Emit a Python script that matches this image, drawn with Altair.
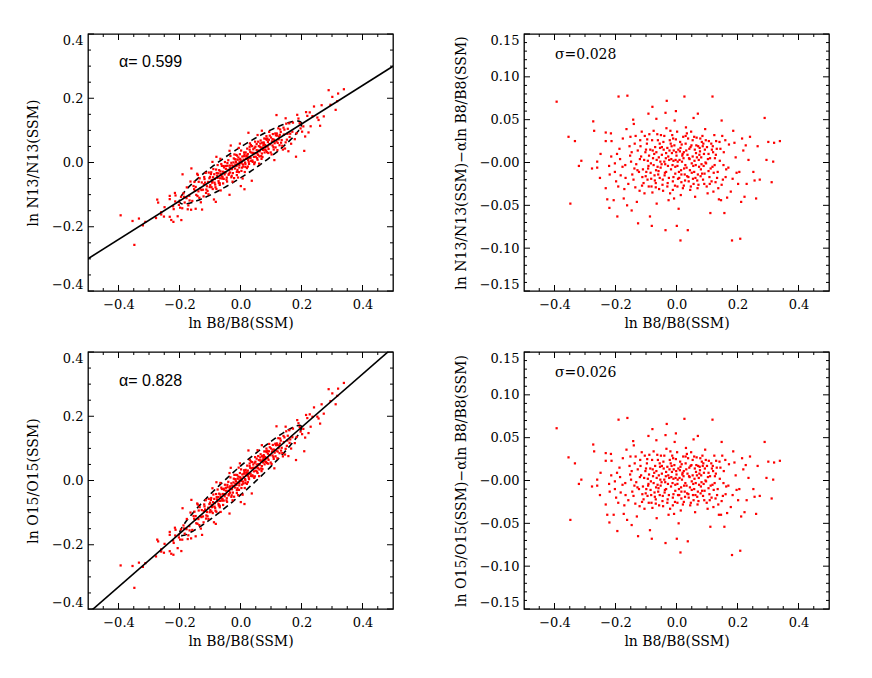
import altair as alt
import numpy as np
import pandas as pd

# ---------------- data ----------------
ALPHA_N13 = 0.599
ALPHA_O15 = 0.828
NOTE_N13 = "α= 0.599"
NOTE_O15 = "α= 0.828"
SIGMA_N13 = "σ=0.028"
SIGMA_O15 = "σ=0.026"

# ln B8/B8(SSM) of every point
x_b8 = [
    -0.393, -0.190, -0.161, -0.032, 0.026, 0.118, -0.079, -0.036, -0.002, 0.289,
    0.070, -0.092, -0.066, 0.056, 0.148, -0.142, -0.273, -0.270, -0.354, -0.333,
    -0.320, -0.312, -0.277, -0.348, -0.249, -0.232, -0.215, -0.232, -0.213, -0.260,
    -0.260, -0.251, -0.232, -0.227, -0.220, -0.206, -0.194, -0.191, -0.202, -0.198,
    -0.221, -0.214, -0.219, -0.202, -0.187, -0.185, -0.177, -0.173, -0.171, -0.167,
    -0.164, -0.162, -0.154, -0.151, -0.149, -0.147, -0.140, -0.138, -0.135, -0.130,
    -0.126, -0.123, -0.119, -0.114, -0.112, -0.105, -0.102, -0.097, -0.093, -0.091,
    -0.087, -0.084, -0.081, -0.078, -0.075, -0.072, -0.068, -0.065, -0.062, -0.058,
    -0.055, -0.051, -0.048, -0.044, -0.040, -0.036, -0.034, -0.030, -0.026, -0.023,
    -0.020, -0.017, -0.014, -0.012, -0.010, -0.006, -0.004, -0.001, 0.001, 0.003,
    0.007, 0.010, 0.013, 0.016, 0.019, 0.022, 0.024, 0.029, 0.031, 0.034,
    0.037, 0.039, 0.042, 0.047, 0.050, 0.053, 0.058, 0.061, 0.064, 0.068,
    0.071, 0.074, 0.078, 0.081, 0.084, 0.088, 0.091, 0.094, 0.097, 0.102,
    0.105, 0.108, 0.111, 0.114, 0.118, 0.121, 0.124, 0.128, 0.132, 0.135,
    0.139, 0.142, 0.146, 0.150, 0.154, 0.157, 0.161, 0.166, 0.178, 0.182,
    0.186, 0.190, 0.194, 0.197, 0.202, 0.206, 0.209, 0.212, 0.215, 0.219,
    0.223, 0.227, 0.230, 0.236, 0.241, 0.252, 0.256, 0.261, 0.266, 0.273,
    0.295, 0.301, 0.312, 0.317, 0.320, 0.339,
    -0.12, -0.11, -0.10, -0.095, -0.09, -0.085, -0.08, -0.075, -0.07, -0.068,
    -0.065, -0.06, -0.055, -0.052, -0.048, -0.045, -0.04, -0.038, -0.035, -0.03,
    -0.028, -0.025, -0.022, -0.018, -0.015, -0.012, -0.01, -0.007, -0.004, 0.0,
    0.003, 0.006, 0.009, 0.012, 0.015, 0.018, 0.021, 0.024, 0.027, 0.03,
    0.033, 0.036, 0.04, 0.043, 0.046, 0.05, 0.053, 0.056, 0.06, 0.063,
    0.066, 0.07, 0.073, 0.076, 0.08, 0.083, 0.087, 0.09, 0.095, 0.1,
    0.105, 0.11, 0.115, 0.12, 0.125, 0.13,
    -0.195, -0.183, -0.176, -0.168, -0.158, -0.152, -0.145, -0.137, -0.132, -0.127,
    -0.121, -0.116, -0.108, -0.104, -0.099, -0.094, -0.089, -0.083, -0.079, -0.073,
    -0.067, -0.061, -0.057, -0.053, -0.046, -0.042, -0.037, -0.033, -0.027, -0.021,
    -0.016, -0.011, -0.008, -0.003, 0.002, 0.005, 0.011, 0.014, 0.017, 0.023,
    0.028, 0.032, 0.038, 0.044, 0.048, 0.054, 0.059, 0.065, 0.069, 0.075,
    0.079, 0.085, 0.089, 0.093, 0.099, 0.106, 0.112, 0.119, 0.126, 0.133,
    0.141, 0.148, 0.155, 0.163, 0.172, 0.184,
    -0.147, -0.141, -0.134, -0.128, -0.118, -0.113, -0.106, -0.101, -0.096, -0.092,
    -0.086, -0.082, -0.077, -0.071, -0.066, -0.063, -0.059, -0.054, -0.049, -0.043,
    -0.039, -0.034, -0.029, -0.024, -0.019, -0.013, -0.009, -0.005, -0.002, 0.004,
    0.008, 0.013, 0.016, 0.020, 0.025, 0.030, 0.035, 0.041, 0.045, 0.049,
    0.055, 0.058, 0.062, 0.067, 0.072, 0.077, 0.082, 0.086, 0.092, 0.096,
    0.103, 0.109, 0.116, 0.122, 0.129, 0.137, 0.144, 0.152, 0.160, 0.170,
]

# ln N13/N13(SSM) - alpha ln B8/B8(SSM)   (top-right panel)
res_n13 = [
    0.071, 0.077, 0.078, 0.072, 0.077, 0.077, 0.065, 0.058, 0.060, 0.052,
    0.057, 0.057, 0.051, 0.052, 0.049, 0.050, 0.048, 0.037, 0.030, 0.025,
    -0.004, 0.002, -0.007, -0.048, 0.010, 0.035, 0.034, 0.025, 0.025, 0.001,
    -0.006, -0.018, -0.030, -0.043, -0.053, -0.044, -0.063, -0.028, -0.011, -0.022,
    -0.004, 0.007, -0.014, -0.001, 0.016, 0.004, -0.005, -0.042, -0.031, -0.018,
    0.039, -0.050, 0.019, 0.030, 0.001, -0.056, 0.045, -0.007, -0.029, -0.046,
    -0.071, -0.011, 0.026, 0.036, -0.017, -0.036, 0.012, 0.022, -0.007, -0.028,
    -0.063, -0.001, -0.074, 0.014, 0.037, -0.015, -0.029, -0.048, -0.005, 0.006,
    -0.018, 0.032, 0.018, -0.033, 0.001, -0.079, -0.011, -0.028, -0.044, 0.014,
    0.037, 0.004, 0.032, -0.032, -0.017, 0.049, -0.005, 0.012, -0.074, -0.028,
    -0.054, 0.003, -0.091, -0.014, 0.008, 0.030, -0.027, -0.003, 0.041, 0.034,
    -0.079, -0.017, 0.016, -0.028, -0.001, 0.026, -0.011, -0.040, 0.011, -0.021,
    0.019, -0.005, 0.028, 0.006, -0.013, 0.022, -0.025, 0.039, -0.001, -0.036,
    0.010, -0.017, -0.059, 0.022, -0.005, -0.034, 0.032, -0.023, 0.016, -0.011,
    -0.043, 0.002, -0.044, 0.031, -0.003, -0.059, -0.017, -0.041, -0.034, -0.091,
    0.037, 0.023, 0.006, -0.012, -0.025, -0.011, -0.089, -0.046, 0.028, 0.014,
    -0.040, 0.020, -0.025, 0.003, 0.030, -0.011, -0.021, -0.042, 0.019, -0.020,
    0.003, 0.024, -0.023, 0.001, 0.023, 0.025,
    0.004, -0.008, 0.015, -0.02, 0.008, -0.012, 0.026, -0.003, 0.018, -0.024,
    0.003, -0.014, 0.022, -0.006, 0.009, -0.02, 0.031, -0.012, 0.005, 0.017,
    -0.004, -0.018, 0.026, -0.008, 0.011, -0.022, 0.002, 0.02, -0.013, 0.008,
    -0.004, 0.015, -0.018, 0.024, -0.009, 0.001, -0.03, 0.012, -0.014, 0.022,
    -0.006, 0.009, -0.022, 0.004, 0.018, -0.012, 0.007, -0.025, 0.015, -0.003,
    0.029, -0.014, 0.003, 0.017, -0.008, 0.024, -0.02, 0.01, 0.0, 0.018,
    -0.01, 0.005, -0.022, 0.012, -0.003, 0.025,
    0.010, -0.015, 0.028, -0.003, -0.025, 0.008, -0.014, 0.022, -0.002, 0.014,
    -0.033, 0.007, -0.024, 0.031, -0.011, 0.002, 0.033, -0.019, -0.035, 0.010,
    -0.009, 0.026, -0.031, 0.001, -0.026, 0.015, -0.002, 0.040, 0.007, -0.036,
    0.019, 0.028, -0.042, 0.003, 0.036, -0.019, 0.013, -0.038, 0.021, 0.005,
    -0.021, 0.014, 0.028, -0.009, 0.036, -0.019, 0.002, 0.020, -0.030, 0.009,
    -0.016, 0.031, -0.004, 0.015, -0.028, 0.025, -0.007, 0.019, 0.005, -0.018,
    0.024, -0.026, 0.012, -0.008, 0.021, -0.019,
    0.012, -0.020, 0.031, -0.009, 0.019, -0.027, 0.003, -0.016, 0.027, -0.004,
    0.015, -0.028, 0.005, -0.021, 0.012, 0.033, -0.010, 0.017, -0.002, 0.024,
    -0.015, 0.011, -0.024, 0.003, 0.022, -0.003, 0.014, -0.027, 0.027, 0.001,
    -0.011, 0.017, -0.023, 0.010, -0.007, 0.031, -0.016, 0.005, -0.032, 0.020,
    -0.004, 0.030, -0.018, 0.006, -0.026, 0.013, -0.002, 0.019, -0.013, 0.026,
    0.004, -0.025, 0.015, -0.012, 0.009, -0.030, 0.016, -0.020, 0.026, -0.006,
]

# ln O15/O15(SSM) - alpha ln B8/B8(SSM)   (bottom-right panel)
res_o15 = [
    0.061, 0.071, 0.073, 0.066, 0.072, 0.071, 0.060, 0.053, 0.055, 0.045,
    0.052, 0.052, 0.047, 0.048, 0.045, 0.046, 0.042, 0.034, 0.027, 0.020,
    -0.004, 0.001, -0.007, -0.046, 0.009, 0.032, 0.031, 0.023, 0.023, 0.001,
    -0.006, -0.017, -0.028, -0.040, -0.049, -0.040, -0.059, -0.026, -0.010, -0.020,
    -0.004, 0.006, -0.013, -0.001, 0.015, 0.004, -0.005, -0.039, -0.029, -0.017,
    0.036, -0.046, 0.017, 0.028, 0.001, -0.052, 0.041, -0.006, -0.027, -0.042,
    -0.065, -0.010, 0.024, 0.033, -0.016, -0.033, 0.011, 0.020, -0.006, -0.026,
    -0.058, -0.001, -0.068, 0.013, 0.034, -0.014, -0.027, -0.044, -0.005, 0.006,
    -0.017, 0.029, 0.017, -0.030, 0.001, -0.073, -0.010, -0.026, -0.040, 0.013,
    0.034, 0.004, 0.029, -0.029, -0.016, 0.045, -0.005, 0.011, -0.068, -0.026,
    -0.050, 0.003, -0.084, -0.013, 0.007, 0.028, -0.025, -0.003, 0.038, 0.031,
    -0.071, -0.016, 0.015, -0.026, -0.001, 0.024, -0.010, -0.037, 0.010, -0.019,
    0.017, -0.005, 0.026, 0.006, -0.012, 0.020, -0.023, 0.036, -0.001, -0.033,
    0.009, -0.016, -0.054, 0.020, -0.005, -0.031, 0.029, -0.021, 0.015, -0.010,
    -0.040, 0.002, -0.040, 0.029, -0.003, -0.054, -0.016, -0.038, -0.031, -0.087,
    0.034, 0.021, 0.006, -0.011, -0.023, -0.010, -0.082, -0.042, 0.026, 0.013,
    -0.037, 0.018, -0.023, 0.003, 0.028, -0.010, -0.019, -0.039, 0.017, -0.018,
    0.003, 0.022, -0.021, 0.001, 0.021, 0.023,
    0.004, -0.007, 0.014, -0.018, 0.007, -0.011, 0.024, -0.003, 0.017, -0.022,
    0.003, -0.013, 0.020, -0.006, 0.008, -0.018, 0.029, -0.011, 0.005, 0.016,
    -0.004, -0.017, 0.024, -0.007, 0.010, -0.020, 0.002, 0.018, -0.012, 0.007,
    -0.004, 0.014, -0.017, 0.022, -0.008, 0.001, -0.028, 0.011, -0.013, 0.020,
    -0.006, 0.008, -0.020, 0.004, 0.017, -0.011, 0.006, -0.023, 0.014, -0.003,
    0.027, -0.013, 0.003, 0.016, -0.007, 0.022, -0.018, 0.009, 0.0, 0.017,
    -0.009, 0.005, -0.020, 0.011, -0.003, 0.023,
    0.009, -0.014, 0.026, -0.003, -0.023, 0.007, -0.013, 0.020, -0.002, 0.013,
    -0.030, 0.006, -0.022, 0.029, -0.010, 0.002, 0.030, -0.017, -0.032, 0.009,
    -0.008, 0.024, -0.029, 0.001, -0.024, 0.014, -0.002, 0.037, 0.006, -0.033,
    0.017, 0.026, -0.039, 0.003, 0.033, -0.017, 0.012, -0.035, 0.019, 0.005,
    -0.019, 0.013, 0.026, -0.008, 0.033, -0.017, 0.002, 0.018, -0.028, 0.008,
    -0.015, 0.029, -0.004, 0.014, -0.026, 0.023, -0.006, 0.017, 0.005, -0.017,
    0.022, -0.024, 0.011, -0.007, 0.019, -0.017,
    0.011, -0.018, 0.028, -0.008, 0.017, -0.025, 0.003, -0.015, 0.025, -0.004,
    0.014, -0.026, 0.005, -0.019, 0.011, 0.030, -0.009, 0.016, -0.002, 0.022,
    -0.014, 0.010, -0.022, 0.003, 0.020, -0.003, 0.013, -0.025, 0.025, 0.001,
    -0.010, 0.016, -0.021, 0.009, -0.006, 0.028, -0.015, 0.005, -0.029, 0.018,
    -0.004, 0.028, -0.017, 0.006, -0.024, 0.012, -0.002, 0.017, -0.012, 0.024,
    0.004, -0.023, 0.014, -0.011, 0.008, -0.028, 0.015, -0.018, 0.024, -0.006,
]

# axis tick values
x_major = [-0.4, -0.2, 0.0, 0.2, 0.4]
x_minor = [-0.45, -0.35, -0.3, -0.25, -0.15, -0.1, -0.05,
           0.05, 0.1, 0.15, 0.25, 0.3, 0.35, 0.45]
yl_major = [-0.4, -0.2, 0.0, 0.2, 0.4]
yl_minor = [-0.35, -0.3, -0.25, -0.15, -0.1, -0.05,
            0.05, 0.1, 0.15, 0.25, 0.3, 0.35]
yr_major = [-0.15, -0.10, -0.05, 0.0, 0.05, 0.10, 0.15]
yr_minor = [i / 100 for i in range(-14, 15) if i % 5 != 0]

# error-ellipse shape parameters (x half-length, residual half-width)
ELL_N13 = (0.20, 0.048)
ELL_O15 = (0.20, 0.045)

# ---------------- build ----------------
df = pd.DataFrame({"x": x_b8, "rn": res_n13, "ro": res_o15})
df["yn"] = ALPHA_N13 * df["x"] + df["rn"]
df["yo"] = ALPHA_O15 * df["x"] + df["ro"]

W, H = 305, 257
MAJ, MIN = 6, 3
SERIF = "DejaVu Serif"
XTITLE = "ln B8/B8(SSM)"


def panel(yfield, ydom, ymaj, ymin, ytitle, ylabel_expr, note, note_font,
          note_size, note_xy, alpha=None, ell=None):
    xs = alt.Scale(domain=[-0.5, 0.5], nice=False, zero=False)
    ys = alt.Scale(domain=ydom, nice=False, zero=False)
    xaxis = alt.Axis(values=x_major, format=".1f", title=XTITLE, ticks=False,
                     domain=False, grid=False, labelFlush=False,
                     labelFont=SERIF, labelFontSize=13, labelColor="black",
                     labelPadding=7, titleFont=SERIF, titleFontSize=14,
                     titleFontWeight="normal", titleColor="black",
                     titlePadding=5)
    yaxis = alt.Axis(values=ymaj, labelExpr=ylabel_expr, title=ytitle,
                     ticks=False, domain=False, grid=False, labelFlush=True,
                     labelFont=SERIF, labelFontSize=13, labelColor="black",
                     labelPadding=5, titleFont=SERIF, titleFontSize=14,
                     titleFontWeight="normal", titleColor="black",
                     titlePadding=11)

    def X(f):
        return alt.X(f, type="quantitative", scale=xs, axis=xaxis)

    def Y(f):
        return alt.Y(f, type="quantitative", scale=ys, axis=yaxis)

    layers = []
    if ell is not None:
        t = np.linspace(0, 2 * np.pi, 241)
        a, b = ell
        ex = a * np.cos(t)
        ed = pd.DataFrame({"i": np.arange(len(t)), "ex": ex,
                           "ey": alpha * ex + b * np.sin(t)})
        layers.append(alt.Chart(ed).mark_line(
            color="black", strokeWidth=1.6, strokeDash=[6, 4]).encode(
            x=X("ex"), y=Y("ey"), order="i:Q"))
    layers.append(alt.Chart(df).mark_square(
        size=5, color="#ff0000", opacity=1, filled=True).encode(
        x=X("x"), y=Y(yfield)))
    if alpha is not None:
        ld = pd.DataFrame({"lx": [-0.5, 0.5], "ly": [-0.5 * alpha, 0.5 * alpha]})
        layers.append(alt.Chart(ld).mark_line(
            color="black", strokeWidth=1.6, clip=True).encode(
            x=X("lx"), y=Y("ly")))

    def xt(vals, L):
        d = pd.DataFrame({"v": vals})
        bot = alt.Chart(d).mark_rule(color="black", strokeWidth=1).encode(
            x=X("v"), y=alt.value(H), y2=alt.value(H - L))
        top = alt.Chart(d).mark_rule(color="black", strokeWidth=1).encode(
            x=X("v"), y=alt.value(0), y2=alt.value(L))
        return [bot, top]

    def yt(vals, L):
        d = pd.DataFrame({"v": vals})
        lft = alt.Chart(d).mark_rule(color="black", strokeWidth=1).encode(
            y=Y("v"), x=alt.value(0), x2=alt.value(L))
        rgt = alt.Chart(d).mark_rule(color="black", strokeWidth=1).encode(
            y=Y("v"), x=alt.value(W), x2=alt.value(W - L))
        return [lft, rgt]

    layers += xt(x_major, MAJ) + xt(x_minor, MIN)
    layers += yt(ymaj, MAJ) + yt(ymin, MIN)

    nd = pd.DataFrame({"t": [note]})
    layers.append(alt.Chart(nd).mark_text(
        align="left", baseline="middle", font=note_font, fontSize=note_size,
        color="black").encode(text="t:N", x=alt.value(note_xy[0]),
                              y=alt.value(note_xy[1])))
    return alt.layer(*layers).properties(width=W, height=H)


lab_left = "format(datum.value, '.1f')"
lab_right = "abs(datum.value) < 1e-9 ? '\u22120.00' : format(datum.value, '.2f')"

p1 = panel("yn", [-0.4, 0.4], yl_major, yl_minor, "ln N13/N13(SSM)", lab_left,
           NOTE_N13, "Liberation Sans", 16, (31, 28), ALPHA_N13, ELL_N13)
p2 = panel("rn", [-0.15, 0.15], yr_major, yr_minor,
           "ln N13/N13(SSM)\u2212\u03b1ln B8/B8(SSM)", lab_right,
           SIGMA_N13, SERIF, 14, (31, 21))
p3 = panel("yo", [-0.4, 0.4], yl_major, yl_minor, "ln O15/O15(SSM)", lab_left,
           NOTE_O15, "Liberation Sans", 16, (31, 29), ALPHA_O15, ELL_O15)
p4 = panel("ro", [-0.15, 0.15], yr_major, yr_minor,
           "ln O15/O15(SSM)\u2212\u03b1ln B8/B8(SSM)", lab_right,
           SIGMA_O15, SERIF, 14, (31, 21))

chart = alt.concat(p1, p2, p3, p4, columns=2,
                   spacing={"row": 61, "column": 131}, bounds="flush").properties(
    padding={"left": 17, "top": 24, "right": 5, "bottom": 5}
).configure_view(stroke="black", strokeWidth=1.3)

chart.save("out.html", embed_options={"renderer": "svg", "actions": False})
